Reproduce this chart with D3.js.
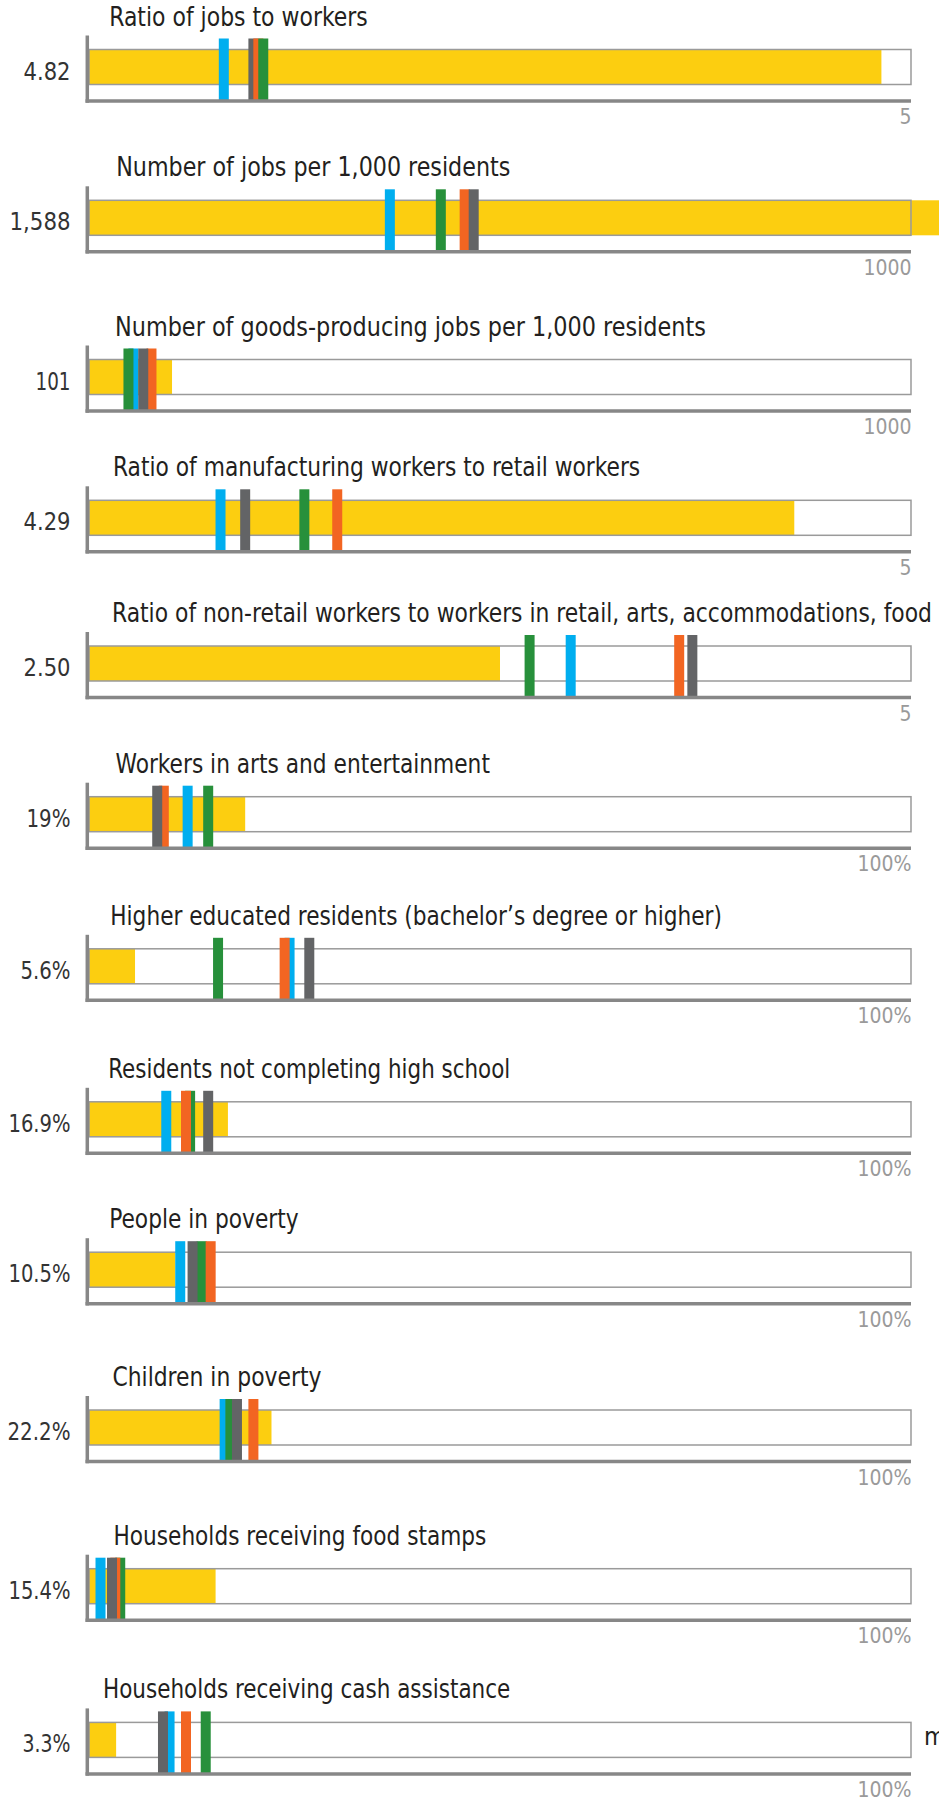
<!DOCTYPE html>
<html>
<head>
<meta charset="utf-8">
<script src="https://cdn.jsdelivr.net/npm/d3@7"></script>
<style>
  body { margin: 0; background: #fff; }
  svg { display: block; }
  text { font-family: "Liberation Sans Narrow", "DejaVu Sans Condensed", "Arial Narrow", sans-serif; }
</style>
</head>
<body>
<svg id="chart" width="939" height="1798"></svg>
<script>
// ---- data -------------------------------------------------------------
const metricTitles = [
  "Ratio of jobs to workers",
  "Number of jobs per 1,000 residents",
  "Number of goods-producing jobs per 1,000 residents",
  "Ratio of manufacturing workers to retail workers",
  "Ratio of non-retail workers to workers in retail, arts, accommodations, food",
  "Workers in arts and entertainment",
  "Higher educated residents (bachelor\u2019s degree or higher)",
  "Residents not completing high school",
  "People in poverty",
  "Children in poverty",
  "Households receiving food stamps",
  "Households receiving cash assistance"
];
const metricValues = [4.82, 1588, 101, 4.29, 2.50, 19, 5.6, 16.9, 10.5, 22.2, 15.4, 3.3];
const valueLabels  = ["4.82", "1,588", "101", "4.29", "2.50", "19%", "5.6%", "16.9%", "10.5%", "22.2%", "15.4%", "3.3%"];
const axisMax      = [5, 1000, 1000, 5, 5, 100, 100, 100, 100, 100, 100, 100];
const tickLabels   = ["5", "1000", "1000", "5", "5", "100%", "100%", "100%", "100%", "100%", "100%", "100%"];

// comparison markers, one value per metric
const compareBlue   = [0.82, 366, 54, 0.80, 2.93, 12.0, 24.4,  9.4, 11.1, 16.5, 1.4,  9.8];
const compareGreen  = [1.06, 428, 48, 1.31, 2.68, 14.5, 15.7, 12.3, 13.7, 17.2, 3.8, 14.2];
const compareOrange = [1.03, 457, 76, 1.51, 3.59,  9.1, 23.8, 11.8, 14.8, 20.0, 3.2, 11.8];
const compareGrey   = [1.00, 468, 66, 0.95, 3.67,  8.3, 26.8, 14.5, 12.6, 18.0, 2.8,  9.0];

// ---- layout -----------------------------------------------------------
const panelTop   = [49.5, 200.3, 359.5, 500.3, 646, 796.7, 948.8, 1101.8, 1252.2, 1410, 1568.7, 1722.4];
const titleStart = [109.2, 116.2, 115, 113, 112, 115.6, 110.3, 108.3, 109.2, 112.4, 113.5, 103];
const titleEnd   = [367.8, 510.3, 705.8, 640.2, 932, 489.9, 721.9, 510.3, 298.7, 321.5, 486.4, 510.3];
const labelWidth = [47, 61, 35, 47, 47, 44, 50, 62, 62, 63, 62, 48];

const boxH = 35, axisY = 51.5, markerTop = -11, markerW = 10;
const colors = {
  bar: "#FCCE10", frame: "#9a9a9a", axis: "#878787", title: "#231f20",
  label: "#333333", tick: "#9a9a9a",
  blue: "#00AEEF", green: "#27903B", orange: "#F26522", grey: "#636466"
};
const markerSeries = {
  blue:   { values: compareBlue,   color: colors.blue },
  green:  { values: compareGreen,  color: colors.green },
  orange: { values: compareOrange, color: colors.orange },
  grey:   { values: compareGrey,   color: colors.grey }
};
// stacking of the markers, bottom to top
const defaultStack = ["blue", "green", "orange", "grey"];
const firstRowStack = ["blue", "grey", "orange", "green"];

const svg = d3.select("#chart");

metricTitles.forEach((title, i) => {
  const g = svg.append("g").attr("transform", `translate(0,${panelTop[i]})`);
  const x = d3.scaleLinear().domain([0, axisMax[i]]).range([89, 911]);
  const [x0, x1] = x.range();

  // empty track
  g.append("rect").attr("x", x0).attr("y", 0)
    .attr("width", x1 - x0).attr("height", boxH).attr("fill", "#fff");
  // value bar
  g.append("rect").attr("class", "bar")
    .attr("x", x(0)).attr("y", 0)
    .attr("width", x(metricValues[i]) - x(0)).attr("height", boxH)
    .attr("fill", colors.bar);
  // track outline
  g.append("rect").attr("x", x0).attr("y", 0)
    .attr("width", x1 - x0).attr("height", boxH)
    .attr("fill", "none").attr("stroke", colors.frame).attr("stroke-width", 1.5);

  // comparison markers
  const stack = i === 0 ? firstRowStack : defaultStack;
  g.selectAll("rect.marker")
    .data(stack.map(k => markerSeries[k]))
    .join("rect").attr("class", "marker")
    .attr("x", s => x(s.values[i]) - markerW / 2).attr("y", markerTop)
    .attr("width", markerW).attr("height", axisY - markerTop)
    .attr("fill", s => s.color);

  // left spine
  g.append("line").attr("x1", 87.3).attr("x2", 87.3)
    .attr("y1", -14).attr("y2", axisY + 1.75)
    .attr("stroke", colors.axis).attr("stroke-width", 3.5);

  // bottom axis with its end label
  const axis = d3.axisBottom(x)
    .tickValues([axisMax[i]])
    .tickFormat(() => tickLabels[i])
    .tickSize(0).tickSizeOuter(0);
  const ag = g.append("g").attr("transform", `translate(0,${axisY})`).call(axis);
  ag.select(".domain").remove();
  ag.insert("line", ":first-child")
    .attr("x1", 85.5).attr("x2", x1)
    .attr("stroke", colors.axis).attr("stroke-width", 3.5);
  ag.attr("font-family", null).attr("font-size", null);
  ag.selectAll(".tick text")
    .attr("text-anchor", "end").attr("x", 0)
    .attr("y", 23).attr("dy", null)
    .attr("fill", colors.tick)
    .style("font-size", "21px");

  // metric title
  g.append("text")
    .attr("x", titleStart[i]).attr("y", -24)
    .attr("textLength", titleEnd[i] - titleStart[i])
    .attr("lengthAdjust", "spacingAndGlyphs")
    .attr("fill", colors.title)
    .style("font-size", "26px")
    .text(title);

  // value label
  g.append("text")
    .attr("x", 70.5).attr("y", boxH / 2 + 12.5)
    .attr("text-anchor", "end")
    .attr("textLength", labelWidth[i])
    .attr("lengthAdjust", "spacingAndGlyphs")
    .attr("fill", colors.label)
    .style("font-size", "25px")
    .text(valueLabels[i]);
});

// stray caption fragment at the right edge of the last row
svg.append("text")
  .attr("x", 924).attr("y", panelTop[11] + boxH / 2 + 5)
  .attr("fill", colors.title)
  .style("font-size", "25px")
  .text("m");
</script>
</body>
</html>
